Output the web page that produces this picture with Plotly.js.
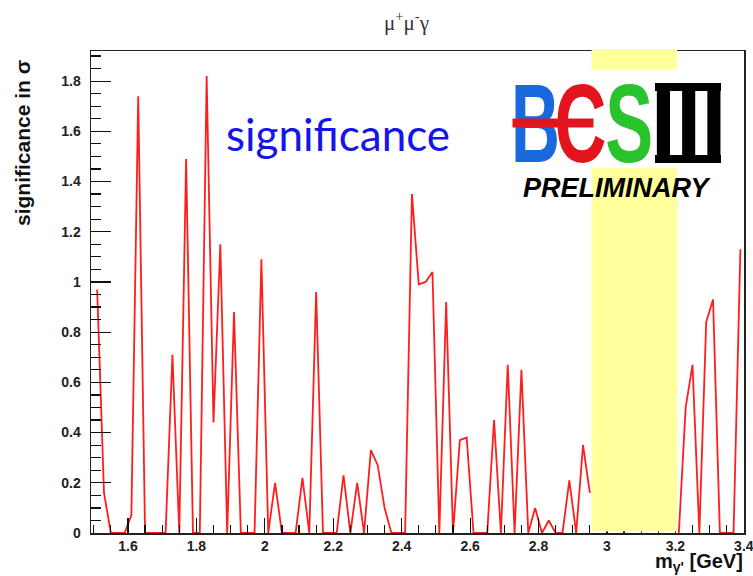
<!DOCTYPE html>
<html>
<head>
<meta charset="utf-8">
<script src="https://cdn.plot.ly/plotly-3.0.1.min.js"></script>
<style>
  html, body { margin: 0; padding: 0; background: #fff; }
  #plot { width: 753px; height: 576px; }
</style>
</head>
<body>
<div id="plot"></div>
<script>
// Dark-photon mass hypotheses (GeV), bin centres
const massGeV = [
  1.51,1.53,1.55,1.57,1.59,1.61,1.63,1.65,1.67,1.69,
  1.71,1.73,1.75,1.77,1.79,1.81,1.83,1.85,1.87,1.89,
  1.91,1.93,1.95,1.97,1.99,2.01,2.03,2.05,2.07,2.09,
  2.11,2.13,2.15,2.17,2.19,2.21,2.23,2.25,2.27,2.29,
  2.31,2.33,2.35,2.37,2.39,2.41,2.43,2.45,2.47,2.49,
  2.51,2.53,2.55,2.57,2.59,2.61,2.63,2.65,2.67,2.69,
  2.71,2.73,2.75,2.77,2.79,2.81,2.83,2.85,2.87,2.89,
  2.91,2.93,2.95,2.97,2.99,3.01,3.03,3.05,3.07,3.09,
  3.11,3.13,3.15,3.17,3.19,3.21,3.23,3.25,3.27,3.29,
  3.31,3.33,3.35,3.37,3.39
];
// Significance in sigma (null = J/psi veto region, no result)
const significance = [
  0.97,0.16,0,0,0,0.07,1.74,0,0,0,
  0,0.71,0,1.49,0,0,1.82,0.44,1.15,0,
  0.88,0,0,0,1.09,0,0.20,0,0,0,
  0.22,0,0.96,0,0,0,0.23,0,0.20,0,
  0.33,0.27,0.10,0,0,0,1.35,0.99,1.00,1.04,
  0,0.92,0,0.37,0.38,0,0,0,0.45,0,
  0.67,0,0.65,0,0.10,0,0.05,0,0,0.21,
  0,0.35,0.16,null,null,null,null,null,null,null,
  null,null,null,null,null,0,0.50,0.67,0,0.84,
  0.93,0,0,0,1.13
];
// J/psi veto band (GeV)
const vetoBand = [2.955, 3.205];
const xRange = [1.492, 3.4005];
const yRange = [0, 1.92];

const chartTitle = 'μ<sup>+</sup>μ<sup>-</sup>γ';
const yTitle = 'significance in σ';
const xTitle = 'm<sub>γ\'</sub> [GeV]';
const curveLabel = 'significance';
const logoLetters = ['B', 'C', 'S', 'III'];
const logoSub = 'PRELIMINARY';

// ---- layout helpers (pixel -> paper) ----
const M = {l: 91, r: 9, t: 51, b: 43};
const W = 753, H = 576;
const PW = W - M.l - M.r, PH = H - M.t - M.b;
const px = v => (v - M.l) / PW;
const py = v => (H - M.b - v) / PH;

const trace = {
  x: massGeV, y: significance, type: 'scatter', mode: 'lines',
  line: {color: 'rgb(255,30,30)', width: 1.8},
  connectgaps: false, hoverinfo: 'x+y', showlegend: false
};

const tickFont = {family: 'Liberation Sans, Arial, sans-serif', size: 14, color: '#222', weight: 700};
const logoFont = (c) => ({family: 'Liberation Sans, Arial, sans-serif', size: 112, color: c, weight: 700});

const layout = {
  width: W, height: H,
  margin: M,
  paper_bgcolor: '#fff', plot_bgcolor: '#fff',
  showlegend: false,
  xaxis: {
    range: xRange, tick0: 0, dtick: 0.2,
    ticks: 'inside', ticklen: 15, tickwidth: 1.2, tickcolor: '#111',
    minor: {dtick: 0.05, ticks: 'inside', ticklen: 8, tickwidth: 1.2, tickcolor: '#111'},
    showline: true, linecolor: '#222', linewidth: 1.5, mirror: true,
    showgrid: false, zeroline: false,
    tickfont: tickFont, ticklabelstandoff: 0, ticklabeloverflow: 'allow'
  },
  yaxis: {
    range: yRange, tick0: 0, dtick: 0.2,
    ticks: 'inside', ticklen: 20, tickwidth: 1.2, tickcolor: '#111',
    minor: {dtick: 0.05, ticks: 'inside', ticklen: 10, tickwidth: 1.2, tickcolor: '#111'},
    showline: true, linecolor: '#222', linewidth: 1.5, mirror: true,
    showgrid: false, zeroline: false,
    tickfont: tickFont, ticklabelstandoff: 6
  },
  shapes: [
    {type: 'rect', layer: 'above', xref: 'x', yref: 'paper',
     x0: vetoBand[0], x1: vetoBand[1], y0: 1.5 / PH, y1: 1.004,
     fillcolor: '#ffff9c', line: {width: 0}},
    {type: 'rect', layer: 'above', xref: 'paper', yref: 'paper',
     x0: px(505), x1: px(730), y0: py(168), y1: py(69),
     fillcolor: '#ffffff', line: {width: 0}},
    {type: 'rect', layer: 'above', xref: 'paper', yref: 'paper',
     x0: px(655), x1: px(721), y0: py(91), y1: py(83),
     fillcolor: '#000', line: {width: 0}},
    {type: 'rect', layer: 'above', xref: 'paper', yref: 'paper',
     x0: px(655), x1: px(721), y0: py(163), y1: py(155),
     fillcolor: '#000', line: {width: 0}}
  ],
  annotations: [
    {text: chartTitle, xref: 'paper', yref: 'paper', x: px(406), y: py(22),
     xanchor: 'center', yanchor: 'middle', showarrow: false,
     font: {family: 'Liberation Serif, Times New Roman, serif', size: 21, color: '#333'}},
    {text: yTitle, xref: 'paper', yref: 'paper', x: px(22), y: py(143),
     xanchor: 'center', yanchor: 'middle', showarrow: false, textangle: -90,
     font: {family: 'Liberation Sans, Arial, sans-serif', size: 21, color: '#111', weight: 700}},
    {text: xTitle, xref: 'paper', yref: 'paper', x: px(745), y: py(562),
     xanchor: 'right', yanchor: 'middle', showarrow: false,
     font: {family: 'Liberation Sans, Arial, sans-serif', size: 20, color: '#111', weight: 700}},
    {text: curveLabel, xref: 'paper', yref: 'paper', x: px(338), y: py(134),
     xanchor: 'center', yanchor: 'middle', showarrow: false,
     font: {family: 'Lato, Open Sans, sans-serif', size: 44, color: 'rgb(20,20,235)'}},
    {text: logoLetters[0], xref: 'paper', yref: 'paper', x: px(535), y: py(123),
     xanchor: 'center', yanchor: 'middle', showarrow: false, font: logoFont('rgb(25,105,220)')},
    {text: ' ', xref: 'paper', yref: 'paper', x: px(553), y: py(123),
     xanchor: 'center', yanchor: 'middle', showarrow: false, width: 80, height: 8,
     bgcolor: 'rgb(228,20,30)', borderpad: 0, font: {size: 1}},
    {text: logoLetters[1], xref: 'paper', yref: 'paper', x: px(580), y: py(123),
     xanchor: 'center', yanchor: 'middle', showarrow: false, font: logoFont('rgb(228,20,30)')},
    {text: logoLetters[2], xref: 'paper', yref: 'paper', x: px(629), y: py(123),
     xanchor: 'center', yanchor: 'middle', showarrow: false, font: logoFont('rgb(40,195,45)')},
    {text: logoLetters[3], xref: 'paper', yref: 'paper', x: px(688), y: py(123),
     xanchor: 'center', yanchor: 'middle', showarrow: false, font: logoFont('#000')},
    {text: logoSub, xref: 'paper', yref: 'paper', x: px(617), y: py(187.5),
     xanchor: 'center', yanchor: 'middle', showarrow: false,
     font: {family: 'Liberation Sans, Arial, sans-serif', size: 27, color: '#000', weight: 700, style: 'italic'}}
  ]
};

const targetWidths = {'B': 49, 'C': 52, 'S': 48, 'III': 76};

Plotly.newPlot('plot', [trace], layout, {displayModeBar: false, staticPlot: true}).then(function (gd) {
  gd.querySelectorAll('.annotation').forEach(function (g) {
    const t = g.querySelector('text.annotation-text');
    if (!t) return;
    const key = t.textContent;
    if (!(key in targetWidths)) return;
    const bb = t.getBBox();
    if (!bb.width) return;
    const sx = targetWidths[key] / bb.width;
    const cx = bb.x + bb.width / 2;
    t.setAttribute('transform', 'translate(' + cx + ',0) scale(' + sx + ',1) translate(' + (-cx) + ',0)');
  });
});
</script>
</body>
</html>
